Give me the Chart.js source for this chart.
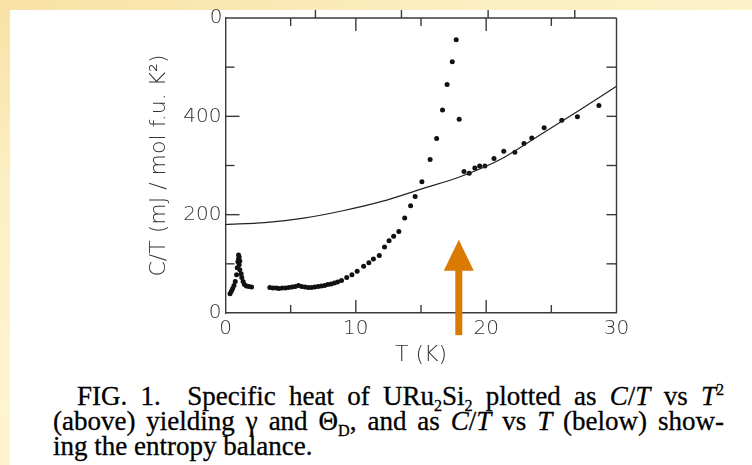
<!DOCTYPE html>
<html>
<head>
<meta charset="utf-8">
<script src="https://cdn.jsdelivr.net/npm/chart.js@4.4.1/dist/chart.umd.min.js"></script>
<style>
  html, body { margin: 0; padding: 0; }
  body {
    width: 752px; height: 465px; overflow: hidden; position: relative;
    background: linear-gradient(160deg, #f8e1a4 0%, #fcefc2 25%, #fdf4d0 55%, #fcefc0 100%);
  }
  #paper { position: absolute; left: 10px; top: 10px; width: 742px; height: 455px; background: #fff; }
  #chart { position: absolute; left: 0; top: 0; }
  #caption {
    position: absolute; left: 53px; top: 384px; width: 671px;
    font-family: "Liberation Serif", serif; font-size: 27px; line-height: 25px; color: #000;
    -webkit-text-stroke: 0.3px #000;
  }
  .j { text-align: justify; text-align-last: justify; }
  sub, sup { font-size: 60%; line-height: 0; }
</style>
</head>
<body>
<div id="paper"></div>
<canvas id="chart" width="752" height="372"></canvas>
<div id="caption">
  <div class="j" style="padding-left:24px">FIG. 1.&nbsp; Specific heat of URu<sub>2</sub>Si<sub>2</sub> plotted as <i>C</i>/<i>T</i> vs <i>T</i><sup>2</sup></div>
  <div class="j">(above) yielding γ and Θ<sub>D</sub>, and as <i>C</i>/<i>T</i> vs <i>T</i> (below) show-</div>
  <div>ing the entropy balance.</div>
</div>
<script>
var tempK = [
  0.35, 0.45, 0.55, 0.65, 0.75, 0.85, 0.9, 0.95, 1.0, 1.0, 1.05, 1.1, 1.05, 1.1, 1.2, 1.25, 1.35, 1.45, 1.6, 1.8, 2.0,
  3.4, 3.65, 3.9, 4.1, 4.35, 4.6, 4.85, 5.1, 5.35, 5.6, 5.85, 6.1, 6.35, 6.6, 6.85, 7.1, 7.35, 7.6, 7.85, 8.1, 8.35, 8.6,
  8.9, 9.3, 9.7, 10.1, 10.6, 11.0, 11.35, 11.8, 12.2, 12.55, 12.9, 13.3, 13.75, 14.2, 14.55, 15.07, 15.7, 16.2, 16.65,
  17.0, 17.4, 17.7, 17.93, 18.3, 18.7, 19.13, 19.5, 19.9, 20.6, 21.35, 22.2, 22.9, 23.5, 24.45, 25.8, 27.0, 28.65
];
var cOverT = [
  39, 44, 50, 56, 64, 78, 92, 104, 118, 110, 114, 106, 98, 88, 80, 72, 64, 58, 55, 54, 53,
  52, 51, 51, 50, 51, 51, 52, 53, 54, 56, 54, 53, 52, 52, 53, 54, 55, 56, 58, 59, 61, 63,
  66, 72, 78, 85, 95, 102, 110, 117, 134, 147, 156, 166, 193, 218, 237, 267, 312, 355, 413,
  465, 511, 556, 394, 288, 284, 295, 299, 299, 314, 329, 327, 345, 356, 377, 392, 399, 422
];

// fitted curve gamma + beta T^2
var fitTempK = [0, 3, 6, 9, 12, 15, 18, 21, 24, 27, 30];
var fitCOverT = [180, 184, 193, 208, 227, 252, 277, 311, 360, 410, 461];

var xTickValues = [0, 10, 20, 30];
var yTickValues = [0, 200, 400];
var xInnerTicks = [5, 10, 15, 20, 25];
var yInnerTicks = [100, 200, 300, 400, 500];
var upperPanelTicks = [6.9, 13.5, 20.15, 26.8];   // ticks of the panel above, cut off by the slide
var arrowT = 17.9;
var arrowTip = 149;
var arrowHeadBase = 86;
var arrowTail = -45;

var AXIS_COLOR = '#3a3a3a';
var LABEL_COLOR = '#333';
var LABEL_FONT = {family: 'DejaVu Sans', size: 20, weight: 200};
var TITLE_FONT = {family: 'DejaVu Sans', size: 22, weight: 200};

let points = tempK.map(function (t, i) { return {x: t, y: cOverT[i]}; });
let fit = fitTempK.map(function (t, i) { return {x: t, y: fitCOverT[i]}; });

function line(ctx, x1, y1, x2, y2) {
    ctx.beginPath();
    ctx.moveTo(x1, y1);
    ctx.lineTo(x2, y2);
    ctx.stroke();
}

const framePlugin = {
    id: 'frame',
    afterDatasetsDraw: function (chart) {
        const ctx = chart.ctx;
        const a = chart.chartArea;
        const xs = chart.scales.x, ys = chart.scales.y;
        ctx.save();
        ctx.strokeStyle = AXIS_COLOR;
        ctx.lineWidth = 1.4;
        // top and right edges of the box
        line(ctx, a.left, a.top, a.right, a.top);
        line(ctx, a.right, a.top, a.right, a.bottom);
        // inward ticks
        xInnerTicks.forEach(function (v) {
            let px = xs.getPixelForValue(v);
            let len = (v % 10 === 0) ? 13 : 8;
            line(ctx, px, a.bottom, px, a.bottom - len);
            line(ctx, px, a.top, px, a.top + len);
        });
        yInnerTicks.forEach(function (v) {
            let py = ys.getPixelForValue(v);
            let len = (v % 200 === 0) ? 14 : 9;
            line(ctx, a.left, py, a.left + len, py);
            line(ctx, a.right, py, a.right - 10, py);
        });
        upperPanelTicks.forEach(function (v) {
            let px = xs.getPixelForValue(v);
            line(ctx, px, a.top, px, 10);
        });
        // zero label of the panel above
        ctx.fillStyle = LABEL_COLOR;
        ctx.font = '200 20px "DejaVu Sans"';
        ctx.textAlign = 'right';
        ctx.textBaseline = 'middle';
        ctx.fillText('0', a.left - 3, a.top);
        ctx.restore();
    },
    afterDraw: function (chart) {
        const ctx = chart.ctx;
        const xs = chart.scales.x, ys = chart.scales.y;
        let px = xs.getPixelForValue(arrowT);
        let tip = ys.getPixelForValue(arrowTip);
        let base = ys.getPixelForValue(arrowHeadBase);
        let tail = ys.getPixelForValue(arrowTail);
        ctx.save();
        ctx.fillStyle = '#d97b02';
        ctx.fillRect(px - 3.5, base - 1, 7, tail - base + 1);
        ctx.beginPath();
        ctx.moveTo(px, tip);
        ctx.lineTo(px + 15, base);
        ctx.lineTo(px - 15, base);
        ctx.closePath();
        ctx.fill();
        ctx.restore();
    }
};

new Chart(document.getElementById('chart'), {
    type: 'scatter',
    data: {
        datasets: [{
            type: 'line',
            data: fit,
            borderColor: '#222',
            borderWidth: 1.2,
            pointRadius: 0,
            tension: 0.4,
            cubicInterpolationMode: 'monotone',
            fill: false,
        }, {
            data: points,
            backgroundColor: '#111',
            borderWidth: 0,
            pointRadius: 2.5,
        }]
    },
    options: {
        responsive: false,
        animation: false,
        devicePixelRatio: 1,
        layout: {padding: {left: 138, top: 18, right: 135.5, bottom: 0}},
        plugins: {legend: {display: false}, tooltip: {enabled: false}},
        scales: {
            x: {
                type: 'linear', min: 0, max: 30,
                afterBuildTicks: function (scale) {
                    scale.ticks = xTickValues.map(function (v) { return {value: v}; });
                },
                afterFit: function (scale) { scale.height = 59; },
                grid: {display: true, drawOnChartArea: false, drawTicks: false},
                border: {display: true, color: AXIS_COLOR, width: 1.4},
                ticks: {color: LABEL_COLOR, font: LABEL_FONT, padding: 4, maxRotation: 0},
                title: {display: true, text: 'T (K)', color: LABEL_COLOR, font: TITLE_FONT, padding: {bottom: 4}}
            },
            y: {
                type: 'linear', min: 0, max: 600,
                afterBuildTicks: function (scale) {
                    scale.ticks = yTickValues.map(function (v) { return {value: v}; });
                },
                afterFit: function (scale) { scale.width = 87.5; },
                grid: {display: true, drawOnChartArea: false, drawTicks: false},
                border: {display: true, color: AXIS_COLOR, width: 1.4},
                ticks: {color: LABEL_COLOR, font: LABEL_FONT, padding: 4},
                title: {display: true, text: 'C/T (mJ / mol f.u. K²)', color: LABEL_COLOR, font: TITLE_FONT, padding: {top: 8}}
            }
        }
    },
    plugins: [framePlugin]
});
</script>
</body>
</html>
